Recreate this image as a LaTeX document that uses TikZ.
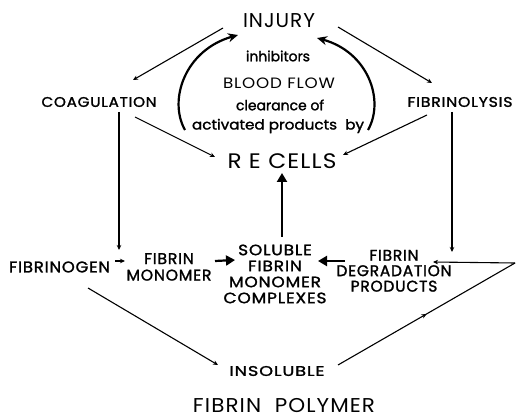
\documentclass[tikz,border=0pt]{standalone}
\usepackage{graphicx}
\usepackage{fontspec}
\setmainfont{Poppins}[LetterSpace=5]
\newfontfamily\pb{Poppins}[FakeBold=1.5,LetterSpace=5]
\newfontfamily\pbn{Poppins}[FakeBold=1.5]
\newcommand\fw[2]{\resizebox{#1pt}{\height}{#2}}
\newcommand\lines[1]{\begin{tabular}{@{}c@{}}#1\end{tabular}}
\usetikzlibrary{arrows.meta,calc,decorations.markings}
\begin{document}
\begin{tikzpicture}[x=1pt,y=-1pt,
  txt/.style={inner sep=0pt,align=center},
  thinarrow/.style={line width=1.1pt,-{Stealth[length=5pt,width=4.5pt]}},
  fatarrow/.style={line width=2.2pt,-{Triangle[length=9pt,width=10pt]}},
  curvearrow/.style={line width=2.2pt,-{Stealth[length=10pt,width=9pt]}},
  midarrow/.style={line width=1.1pt,decoration={markings,mark=at position 0.5 with {\arrow{Stealth[length=5pt,width=4.5pt]}}},postaction={decorate}}]
\useasboundingbox[fill=white] (0,0) rectangle (516,419);
\node[txt,font=\fontsize{20}{22}\selectfont] (inj) at (279,20.5) {\fw{72}{INJURY}};
\node[txt,font=\pb\fontsize{14}{15}\selectfont] (coag) at (99,102) {\fw{115}{COAGULATION}};
\node[txt,font=\pb\fontsize{14}{15}\selectfont] (fibl) at (460,102) {\fw{105}{FIBRINOLYSIS}};
\node[txt,font=\pbn\fontsize{14}{15}\selectfont] (inh) at (278,56) {\fw{64}{inhibitors}};
\node[txt,font=\fontsize{15}{16}\selectfont] (bf) at (279,83) {\fw{112}{BLOOD FLOW}};
\node[txt,font=\pbn\fontsize{14}{15}\selectfont] (cl) at (280,105) {\fw{88}{clearance of}};
\node[txt,font=\pbn\fontsize{14}{15}\selectfont] (act) at (278,126) {\fw{172}{activated products\ \ by}};
\node[txt,font=\fontsize{21}{22}\selectfont] (rec) at (282,161) {\fw{109}{R E CELLS}};
\node[txt,font=\pb\fontsize{15.5}{16}\selectfont] (fgen) at (59.5,267) {\fw{101}{FIBRINOGEN}};
\node[txt,font=\pb\fontsize{15.5}{16.5}\selectfont] (fm) at (169,269) {\fw{85}{\lines{FIBRIN\\MONOMER}}};
\node[txt,font=\pb\fontsize{15}{16}\selectfont] (sol) at (275,276) {\fw{103}{\lines{SOLUBLE\\FIBRIN\\MONOMER\\COMPLEXES}}};
\node[txt,font=\pb\fontsize{15.5}{15}\selectfont] (fdp) at (394,273) {\fw{115}{\lines{FIBRIN\\DEGRADATION\\PRODUCTS}}};
\node[txt,font=\pb\fontsize{14}{15}\selectfont] (ins) at (277,371) {\fw{95}{INSOLUBLE}};
\node[txt,font=\fontsize{20}{22}\selectfont] (pol) at (284,406) {\fw{182}{FIBRIN\ \ POLYMER}};
\coordinate (re) at (515,263);
% injury to coag/fibrinolysis
\draw[thinarrow] ($(inj)+(-56,7.5)$) -- ($(coag)+(34,-22)$);
\draw[thinarrow] ($(inj)+(59,6.5)$) -- ($(fibl)+(-28,-19)$);
\draw[thinarrow] ($(coag)+(36,15)$) -- ($(rec)+(-67,-4)$);
\draw[thinarrow] ($(fibl)+(-33,13)$) -- ($(rec)+(61,-6)$);
% curved arrows
\draw[curvearrow] ($(act)+(-93,4)$) .. controls (168,100) and (185,50) .. ($(inj)+(-41,14.5)$);
\draw[curvearrow] ($(act)+(90,4)$) .. controls (385,100) and (368,52) .. ($(inj)+(38,17.5)$);
% verticals
\draw[thinarrow] ($(coag)+(20,10)$) -- ($(fgen)+(59.5,-17)$);
\draw[thinarrow] ($(fibl)+(-8,10)$) -- ($(fdp)+(58,-21)$);
% middle row
\draw[thinarrow] ($(fgen)+(55.5,-6)$) -- ($(fm)+(-44,-8)$);
\draw[fatarrow] ($(fm)+(46,-8)$) -- ($(sol)+(-40,-16)$);
\draw[fatarrow] ($(fdp)+(-49,-12)$) -- ($(sol)+(43,-15)$);
\draw[fatarrow] ($(sol)+(7,-39)$) -- ($(rec)+(0,12)$);
% polymer
\draw[thinarrow] ($(fgen)+(28.5,21)$) -- ($(ins)+(-59,-6)$);
\draw[midarrow] ($(ins)+(61,-6)$) -- (re);
\draw[thinarrow] (re) -- ($(fdp)+(39,-11)$);
\end{tikzpicture}
\end{document}
